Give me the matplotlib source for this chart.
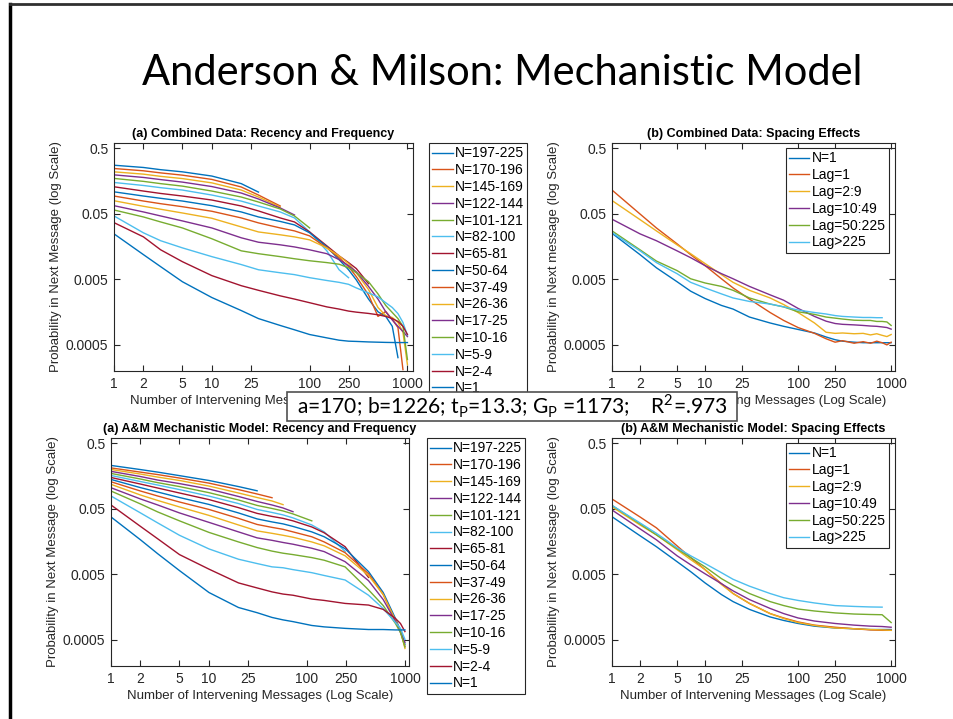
import matplotlib
matplotlib.use('Agg')
import matplotlib.pyplot as plt
from matplotlib import font_manager
from matplotlib.patches import Rectangle
from matplotlib.lines import Line2D

# ---- data ----
freq_labels = ['N=197-225', 'N=170-196', 'N=145-169', 'N=122-144', 'N=101-121',
               'N=82-100', 'N=65-81', 'N=50-64', 'N=37-49', 'N=26-36',
               'N=17-25', 'N=10-16', 'N=5-9', 'N=2-4', 'N=1']
spacing_labels = ['N=1', 'Lag=1', 'Lag=2:9', 'Lag=10:49', 'Lag=50:225', 'Lag>225']

lag_data = [1, 2, 3, 5, 10, 20, 30, 50, 70, 100, 150, 200, 250, 300, 400, 500,
            600, 700, 800, 900, 1000]
data_rf = [
    [0.275, 0.254, 0.235, 0.218, 0.188, 0.144, 0.107],
    [0.245, 0.226, 0.210, 0.194, 0.167, 0.128, 0.0965, 0.0657],
    [0.218, 0.201, 0.186, 0.172, 0.148, 0.115, 0.090, 0.0634],
    [0.196, 0.179, 0.166, 0.152, 0.130, 0.1035, 0.084, 0.0613, 0.0479],
    [0.173, 0.156, 0.144, 0.132, 0.111, 0.090, 0.0755, 0.0592, 0.0463, 0.0304],
    [0.150, 0.135, 0.125, 0.115, 0.0965, 0.078, 0.0657, 0.0533, 0.0432, 0.0264,
     0.0136, 0.0070, 0.0053],
    [0.129, 0.111, 0.102, 0.0932, 0.081, 0.0657, 0.0552, 0.0432, 0.0375, 0.0264,
     0.0162, 0.0114, 0.0090, 0.0073, 0.0043],
    [0.108, 0.0932, 0.086, 0.0782, 0.0664, 0.0533, 0.0447, 0.0382, 0.0338, 0.0256,
     0.0156, 0.0100, 0.0070, 0.0049, 0.0025, 0.0016, 0.00136, 0.00096, 0.00032],
    [0.0932, 0.0782, 0.0712, 0.0641, 0.0546, 0.0432, 0.0363, 0.0304, 0.0274, 0.0230,
     0.0151, 0.0107, 0.0078, 0.0055, 0.0029, 0.00136, 0.00162, 0.00122, 0.00092, 0.00021],
    [0.079, 0.065, 0.0586, 0.0514, 0.0427, 0.0315, 0.0264, 0.0239, 0.0222, 0.0200,
     0.0151, 0.0114, 0.0087, 0.0063, 0.0035, 0.00186, 0.0014, 0.00131, 0.0011, 0.00078, 0.00025],
    [0.0664, 0.0533, 0.0463, 0.0389, 0.0304, 0.0215, 0.0184, 0.0168, 0.0156, 0.0141,
     0.0123, 0.0100, 0.0081, 0.0065, 0.0039, 0.0025, 0.0016, 0.0012, 0.00096, 0.0008, 0.00067],
    [0.0571, 0.0447, 0.0375, 0.0304, 0.0208, 0.0136, 0.0123, 0.0111, 0.0103, 0.0096,
     0.0090, 0.0085, 0.0075, 0.0063, 0.0046, 0.0030, 0.0020, 0.00156, 0.00126, 0.00096, 0.0003],
    [0.0463, 0.0256, 0.0194, 0.0151, 0.0111, 0.0084, 0.0070, 0.0063, 0.0059, 0.0053,
     0.0048, 0.0045, 0.0042, 0.0037, 0.0031, 0.0027, 0.0022, 0.00186, 0.0015, 0.0011, 0.0007],
    [0.0366, 0.0222, 0.0141, 0.0093, 0.0057, 0.0040, 0.0034, 0.0028, 0.0025, 0.0022,
     0.0019, 0.00176, 0.00164, 0.00158, 0.00151, 0.00144, 0.00136, 0.00126, 0.00114, 0.00096, 0.00072],
    [0.0247, 0.0119, 0.0078, 0.0046, 0.00264, 0.00167, 0.00126, 0.00099, 0.00085, 0.00072,
     0.00064, 0.00059, 0.00057, 0.000565, 0.000555, 0.00055, 0.000546, 0.000544, 0.000543,
     0.000543, 0.000543],
]

lag_model = [1, 2, 3, 5, 10, 20, 31, 44, 57, 72, 112, 150, 245, 425, 600, 800, 900, 1000]
model_rf = [
    [0.229, 0.198, 0.181, 0.160, 0.135, 0.109, 0.094],
    [0.210, 0.181, 0.166, 0.147, 0.123, 0.098, 0.084, 0.0737],
    [0.199, 0.169, 0.152, 0.135, 0.111, 0.087, 0.0742, 0.0657, 0.0578],
    [0.186, 0.155, 0.137, 0.121, 0.100, 0.077, 0.0646, 0.0571, 0.0514, 0.0451],
    [0.173, 0.142, 0.125, 0.109, 0.088, 0.068, 0.0562, 0.0505, 0.0463, 0.0417, 0.0327],
    [0.161, 0.130, 0.115, 0.098, 0.078, 0.060, 0.0488, 0.0439, 0.0403, 0.0363, 0.0283,
     0.0222, 0.0112],
    [0.150, 0.119, 0.1035, 0.087, 0.069, 0.052, 0.0425, 0.0382, 0.0357, 0.0327, 0.0264,
     0.0215, 0.0132, 0.0045],
    [0.140, 0.105, 0.090, 0.0742, 0.0582, 0.0432, 0.035, 0.0315, 0.0294, 0.0269, 0.0222,
     0.0187, 0.0123, 0.0055, 0.00264, 0.00106, 0.0007, 0.00043],
    [0.129, 0.0932, 0.0782, 0.0634, 0.0488, 0.0357, 0.0288, 0.026, 0.0243, 0.0222, 0.0187,
     0.0156, 0.0107, 0.0051, 0.00246, 0.00099, 0.00067, 0.0004],
    [0.118, 0.081, 0.0669, 0.0533, 0.0396, 0.0283, 0.023, 0.0211, 0.0197, 0.0184, 0.0156,
     0.0136, 0.0096, 0.0048, 0.00246, 0.00099, 0.0007, 0.00037],
    [0.1046, 0.0705, 0.0571, 0.0432, 0.031, 0.0222, 0.018, 0.0165, 0.0153, 0.0144, 0.0125,
     0.0111, 0.0078, 0.004, 0.00206, 0.00096, 0.00065, 0.00046],
    [0.0932, 0.0592, 0.0447, 0.0327, 0.0218, 0.0156, 0.0128, 0.0113, 0.0105, 0.0100, 0.0090,
     0.0082, 0.0065, 0.0029, 0.00167, 0.00089, 0.00065, 0.00039],
    [0.0782, 0.0432, 0.0304, 0.0197, 0.0122, 0.0085, 0.0073, 0.0065, 0.0063, 0.0059, 0.0053,
     0.0048, 0.0041, 0.0024, 0.0015, 0.00092, 0.00075, 0.00051],
    [0.0571, 0.0269, 0.0174, 0.01, 0.006, 0.0037, 0.0031, 0.0027, 0.0025, 0.0024, 0.0021,
     0.002, 0.0018, 0.0017, 0.00146, 0.00106, 0.00089, 0.00067],
    [0.0375, 0.0168, 0.0103, 0.0057, 0.00264, 0.00156, 0.0013, 0.0011, 0.00101, 0.00095,
     0.00083, 0.00079, 0.00075, 0.00072, 0.00072, 0.00071, 0.00071, 0.00071],
]

lag_sp_data = [1, 2, 3, 5, 7, 10, 15, 20, 30, 50, 70, 100, 150, 200, 250, 300, 400,
               500, 600, 700, 800, 900, 1000]
data_sp = [
    [0.0252, 0.0119, 0.0075, 0.0046, 0.0033, 0.00255, 0.002, 0.00176, 0.00133, 0.00108,
     0.00096, 0.00086, 0.00076, 0.00066, 0.0006, 0.00057, 0.00055, 0.00054, 0.00054,
     0.00054, 0.00054, 0.00054, 0.00054],
    [0.115, 0.0496, 0.0304, 0.0174, 0.0119, 0.0081, 0.0051, 0.0037, 0.0025, 0.00156,
     0.00118, 0.00092, 0.00075, 0.00062, 0.00055, 0.00058, 0.00053, 0.00056, 0.00053,
     0.00057, 0.00054, 0.0005, 0.00055],
    [0.0796, 0.0407, 0.0274, 0.0168, 0.0123, 0.0087, 0.0059, 0.0045, 0.0034, 0.0026,
     0.00206, 0.00156, 0.00108, 0.00078, 0.00075, 0.00076, 0.00074, 0.00075, 0.00071,
     0.00074, 0.0007, 0.00067, 0.00072],
    [0.0413, 0.0247, 0.0194, 0.0136, 0.0107, 0.0081, 0.0061, 0.0051, 0.0039, 0.0029,
     0.0024, 0.0018, 0.00136, 0.00115, 0.00106, 0.00103, 0.00101, 0.00099, 0.00097,
     0.00096, 0.00094, 0.00092, 0.00087],
    [0.0274, 0.0141, 0.0095, 0.0068, 0.0051, 0.0044, 0.0039, 0.0034, 0.0026, 0.0021,
     0.0019, 0.0016, 0.00146, 0.00133, 0.00128, 0.00124, 0.00119, 0.00118, 0.00118,
     0.00114, 0.00114, 0.00112, 0.00099],
    [0.0259, 0.0136, 0.009, 0.0061, 0.0045, 0.0037, 0.003, 0.0026, 0.0023, 0.0021,
     0.0019, 0.0017, 0.00156, 0.00148, 0.0014, 0.00136, 0.00133, 0.00131, 0.00131,
     0.0013, 0.0013],
]

lag_sp_model = [1, 2, 3, 5, 7, 10, 15, 20, 30, 50, 70, 100, 150, 250, 400, 600, 800, 1000]
model_sp = [
    [0.0378, 0.0194, 0.0132, 0.0078, 0.0055, 0.0037, 0.00246, 0.00192, 0.00146, 0.00112,
     0.00099, 0.00089, 0.00081, 0.00076, 0.00074, 0.00072, 0.00072, 0.00072],
    [0.0705, 0.0375, 0.0256, 0.0136, 0.009, 0.0059, 0.0036, 0.00255, 0.0018, 0.00126,
     0.00108, 0.00094, 0.00084, 0.00078, 0.00074, 0.00071, 0.0007, 0.0007],
    [0.0535, 0.0283, 0.02, 0.0119, 0.0084, 0.0059, 0.0035, 0.00255, 0.0018, 0.00126,
     0.00106, 0.00092, 0.00083, 0.00076, 0.00074, 0.00072, 0.00071, 0.0007],
    [0.0479, 0.0247, 0.0168, 0.0096, 0.007, 0.0051, 0.0036, 0.0028, 0.00206, 0.00151,
     0.00126, 0.00108, 0.00097, 0.00089, 0.00084, 0.00081, 0.0008, 0.00078],
    [0.0562, 0.0294, 0.02, 0.0123, 0.009, 0.0065, 0.0043, 0.0034, 0.00255, 0.00192,
     0.00167, 0.00148, 0.00138, 0.00129, 0.00124, 0.00122, 0.00121, 0.00092],
    [0.0562, 0.0304, 0.0211, 0.0127, 0.0096, 0.0073, 0.0053, 0.0042, 0.0033, 0.00255,
     0.0022, 0.002, 0.00183, 0.00167, 0.00162, 0.00159, 0.00158],
]

fit_text = ('a=170; b=1226; t$_\\mathregular{P}$=13.3; G$_\\mathregular{P}$ =1173;    '
            'R$^\\mathregular{2}$=.973')

# matlab default colour order
colors = ['#0072BD', '#D95319', '#EDB120', '#7E2F8E', '#77AC30', '#4DBEEE', '#A2142F']
xticks = [1, 2, 5, 10, 25, 100, 250, 1000]
yticks = [0.0005, 0.005, 0.05, 0.5]
ink = '#262626'

names = {f.name for f in font_manager.fontManager.ttflist}
slide_font = 'Lato' if 'Lato' in names else 'Open Sans'
plt.rcParams['font.family'] = ['Liberation Sans', 'DejaVu Sans']

fig = plt.figure(figsize=(9.54, 7.19), dpi=100)
W, H = 954, 719


def add_ax(l, t, r, b):
    return fig.add_axes([l / W, 1 - b / H, (r - l) / W, (b - t) / H])


def setup(ax, title, ylabel, xmax):
    ax.set_xscale('log')
    ax.set_yscale('log')
    ax.set_xlim(1, xmax)
    ax.set_ylim(2e-4, 0.6)
    ax.set_xticks(xticks)
    ax.set_xticklabels([str(t) for t in xticks])
    ax.set_yticks(yticks)
    ax.set_yticklabels(['0.0005', '0.005', '0.05', '0.5'])
    ax.minorticks_off()
    ax.tick_params(direction='in', top=True, right=True, length=4, width=0.8,
                   labelsize=10, colors=ink, pad=4)
    for s in ax.spines.values():
        s.set_color(ink)
        s.set_linewidth(0.8)
    ax.set_title(title, fontsize=9, fontweight='bold', pad=4, color='black')
    ax.set_xlabel('Number of Intervening Messages (Log Scale)', fontsize=9.5, color=ink, labelpad=3)
    ax.set_ylabel(ylabel, fontsize=9.5, color=ink, labelpad=3)


def legend(ax, anchor, loc):
    lg = ax.legend(loc=loc, bbox_to_anchor=anchor, bbox_transform=fig.transFigure,
                   fontsize=10, handlelength=1.45, handletextpad=0.15, borderpad=0.25,
                   labelspacing=0.2, fancybox=False, framealpha=1, borderaxespad=0)
    lg.get_frame().set_edgecolor(ink)
    lg.get_frame().set_linewidth(0.8)


def fit_width(txt, target):
    # shrink/grow a text so that it spans the same width as on the slide
    fig.canvas.draw()
    w = txt.get_window_extent().width
    txt.set_fontsize(txt.get_fontsize() * target / w)


ax_tl = add_ax(114, 143, 413, 371)
ax_tr = add_ax(612, 143, 895, 371)
ax_bl = add_ax(111, 438, 409, 666)
ax_br = add_ax(612, 438, 895, 666)

for i, ys in enumerate(data_rf):
    ax_tl.plot(lag_data[:len(ys)], ys, color=colors[i % 7], lw=1.0, label=freq_labels[i])
for i, ys in enumerate(model_rf):
    ax_bl.plot(lag_model[:len(ys)], ys, color=colors[i % 7], lw=1.0, label=freq_labels[i])
for i, ys in enumerate(data_sp):
    ax_tr.plot(lag_sp_data[:len(ys)], ys, color=colors[i], lw=1.0, label=spacing_labels[i])
for i, ys in enumerate(model_sp):
    ax_br.plot(lag_sp_model[:len(ys)], ys, color=colors[i], lw=1.0, label=spacing_labels[i])

setup(ax_tl, '(a) Combined Data: Recency and Frequency',
      'Probability in Next Message (log Scale)', 1140)
setup(ax_tr, '(b) Combined Data: Spacing Effects',
      'Probability in Next message (log Scale)', 1100)
setup(ax_bl, '(a) A&M Mechanistic Model: Recency and Frequency',
      'Probability in Next Message (log Scale)', 1100)
setup(ax_br, '(b) A&M Mechanistic Model: Spacing Effects',
      'Probability in Next Message (log Scale)', 1100)

legend(ax_tl, (429 / W, 1 - 143 / H), 'upper left')
legend(ax_bl, (427 / W, 1 - 438 / H), 'upper left')
legend(ax_tr, (889 / W, 1 - 148 / H), 'upper right')
legend(ax_br, (889 / W, 1 - 443 / H), 'upper right')

# slide title and frame
title = fig.text(502 / W, 1 - 73 / H, 'Anderson & Milson: Mechanistic Model', family=slide_font,
                 fontsize=32, ha='center', va='center', color='black')
fig.add_artist(Line2D([10 / W, 10 / W], [0, 1 - 4 / H], transform=fig.transFigure,
                      color='black', lw=2.5))
fig.add_artist(Line2D([10 / W, 1], [1 - 4 / H, 1 - 4 / H], transform=fig.transFigure,
                      color='#303030', lw=2))

# fitted parameter box
fig.add_artist(Rectangle((287 / W, 1 - 421 / H), 450 / W, 29 / H, transform=fig.transFigure,
                         facecolor='white', edgecolor='#505050', lw=1.2, zorder=10))
fit = fig.text(297 / W, 1 - 406 / H, fit_text, family=slide_font, fontsize=18, ha='left',
               va='center', color='black', zorder=11)

fit_width(title, 722)
fit_width(fit, 430)

fig.savefig('out.png', dpi=100)
